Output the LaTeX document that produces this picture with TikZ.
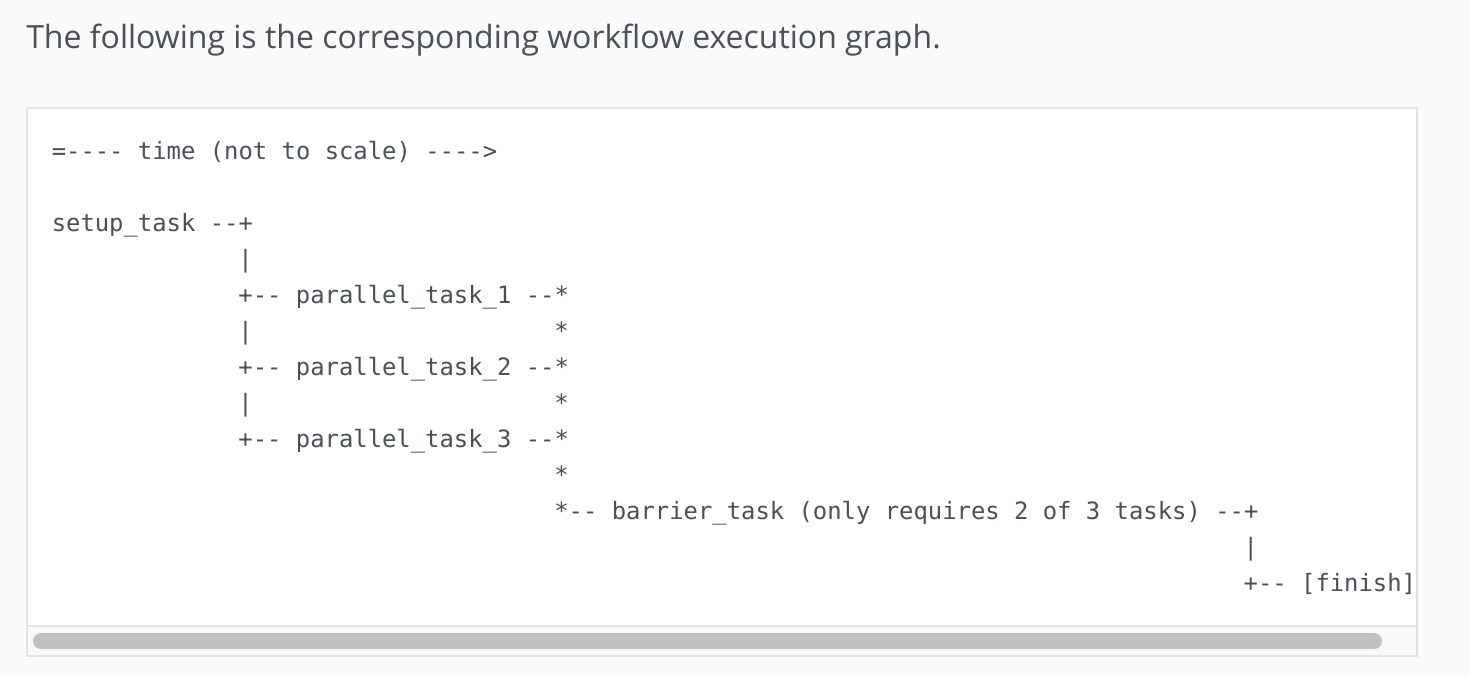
\documentclass[tikz,border=0pt]{standalone}
\usepackage{fontspec}
\setmainfont{Open Sans}
\newfontfamily\codefont{DejaVu Sans Mono}
\definecolor{pagebg}{HTML}{FAFAFA}
\definecolor{boxline}{HTML}{E3E3E3}
\definecolor{trackbg}{HTML}{F8F8F8}
\definecolor{barfill}{HTML}{C1C1C1}
\definecolor{txt}{HTML}{4A5156}
\newcommand{\codeat}[4]{\node[codeline] (#1) at ({51.5+14.36*#2},{159+36*#3}) {#4};}
\begin{document}
\begin{tikzpicture}[x=0.75pt,y=-0.75pt,
  codeline/.style={inner sep=0pt,anchor=base west,text=txt,font=\codefont\fontsize{17.9pt}{21pt}\selectfont},
  titletext/.style={inner sep=0pt,anchor=base west,text=txt,font=\fontsize{24pt}{29pt}\selectfont}]
\useasboundingbox (0,0) rectangle (1470,676);
\fill[pagebg] (0,0) rectangle (1470,676);
% code box
\fill[white] (27,108) rectangle (1417,656);
\fill[trackbg] (28,626) rectangle (1416,655);
\draw[boxline,line width=1.5pt] (28,626) -- (1416,626);
\draw[boxline,line width=1.5pt] (27,108) rectangle (1417,656);
\fill[barfill,rounded corners=6pt] (33,633) rectangle (1382,649);
% title
\node[titletext] (title) at (26,48) {The following is the corresponding workflow execution graph.};
% code lines
\codeat{l0}{0}{0}{=---{}- time (not to scale) ---{}->}
\codeat{l2}{0}{2}{setup\_task -{}-+}
\codeat{l3}{13}{3}{|}
\codeat{l4}{13}{4}{+-{}- parallel\_task\_1 -{}-*}
\codeat{l5a}{13}{5}{|}
\codeat{l5b}{35}{5}{*}
\codeat{l6}{13}{6}{+-{}- parallel\_task\_2 -{}-*}
\codeat{l7a}{13}{7}{|}
\codeat{l7b}{35}{7}{*}
\codeat{l8}{13}{8}{+-{}- parallel\_task\_3 -{}-*}
\codeat{l9}{35}{9}{*}
\codeat{l10}{35}{10}{*-{}- barrier\_task (only requires 2 of 3 tasks) -{}-+}
\codeat{l11}{83}{11}{|}
\codeat{l12}{83}{12}{+-{}- [finish]}
\end{tikzpicture}
\end{document}
